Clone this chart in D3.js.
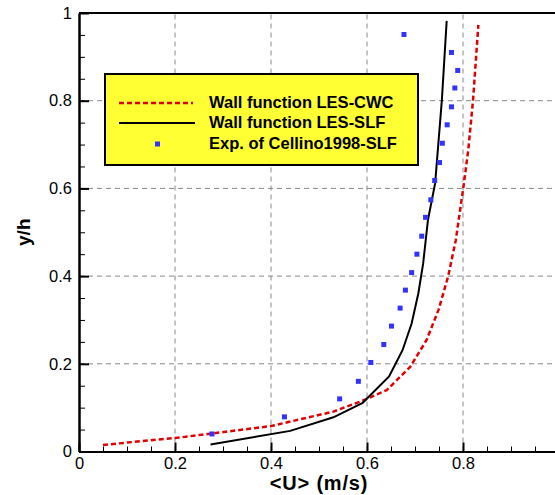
<!DOCTYPE html>
<meta charset="utf-8">
<script src="https://d3js.org/d3.v7.min.js"></script>
<style>
  body { margin: 0; background: #fff; }
  text { font-family: "Liberation Sans", Arial, sans-serif; }
</style>
<div id="chart"></div>
<script>
// wall function LES-CWC (red dashed)
var cwcU = [0.050, 0.210, 0.400, 0.530, 0.591, 0.641, 0.690, 0.724, 0.749, 0.769, 0.785, 0.801, 0.811, 0.821, 0.832];
var cwcY = [0.015, 0.032, 0.058, 0.091, 0.116, 0.140, 0.193, 0.254, 0.323, 0.399, 0.482, 0.604, 0.688, 0.802, 0.973];
// wall function LES-SLF (black)
var slfU = [0.274, 0.440, 0.530, 0.591, 0.646, 0.674, 0.693, 0.707, 0.717, 0.727, 0.742, 0.756, 0.766];
var slfY = [0.016, 0.047, 0.078, 0.111, 0.171, 0.231, 0.292, 0.361, 0.429, 0.528, 0.612, 0.802, 0.982];
// experiment Cellino 1998 (blue squares)
var expU = [0.277, 0.428, 0.543, 0.582, 0.608, 0.635, 0.651, 0.669, 0.680, 0.693, 0.704, 0.714,
            0.722, 0.733, 0.741, 0.751, 0.757, 0.767, 0.776, 0.783, 0.789, 0.776, 0.677];
var expY = [0.040, 0.079, 0.120, 0.160, 0.203, 0.244, 0.286, 0.327, 0.368, 0.408, 0.450, 0.491,
            0.534, 0.574, 0.618, 0.659, 0.703, 0.745, 0.786, 0.829, 0.869, 0.910, 0.951];

var xTicks = [0, 0.2, 0.4, 0.6, 0.8, 1];
var xTickLabels = ["0", "0.2", "0.4", "0.6", "0.8", ""];   // "1" falls off the right edge
var yTicks = [0, 0.2, 0.4, 0.6, 0.8, 1];
var yTickLabels = ["0", "0.2", "0.4", "0.6", "0.8", "1"];
var minorTicks = d3.range(0, 21).map(function(i) { return i / 20; });
var gridTicks = [0.2, 0.4, 0.6, 0.8];
var legendLabels = ["Wall function LES-CWC", "Wall function LES-SLF", "Exp. of Cellino1998-SLF"];

var width = 555, height = 495;
var margin = {top: 13, left: 79};
var plotW = 480, plotH = 438.5;

var svg = d3.select("#chart")
  .append("svg")
    .attr("width", width)
    .attr("height", height);

var x = d3.scaleLinear().domain([0, 1]).range([margin.left, margin.left + plotW]);
var y = d3.scaleLinear().domain([0, 1]).range([margin.top + plotH, margin.top]);

// grid
svg.append("g").selectAll("line")
  .data(gridTicks).enter().append("line")
    .attr("x1", function(d) { return x(d); }).attr("x2", function(d) { return x(d); })
    .attr("y1", y(0)).attr("y2", y(1))
    .attr("stroke", "#888").attr("stroke-dasharray", "5,4");
svg.append("g").selectAll("line")
  .data(gridTicks).enter().append("line")
    .attr("y1", function(d) { return y(d); }).attr("y2", function(d) { return y(d); })
    .attr("x1", x(0)).attr("x2", x(1))
    .attr("stroke", "#888").attr("stroke-dasharray", "5,4");

// frame (top and right)
svg.append("path")
  .attr("d", "M" + x(0) + "," + y(1) + "H" + x(1) + "V" + y(0))
  .attr("fill", "none").attr("stroke", "#000").attr("stroke-width", 2);

// axes, ticks pointing inward
var xMinor = svg.append("g").attr("transform", "translate(0," + y(0) + ")")
  .call(d3.axisBottom(x).tickValues(minorTicks).tickSizeInner(-5).tickSizeOuter(0).tickFormat(""));
var xAxis = svg.append("g").attr("transform", "translate(0," + y(0) + ")")
  .call(d3.axisBottom(x).tickValues(xTicks).tickSizeInner(-9).tickSizeOuter(0).tickPadding(6)
    .tickFormat(function(d, i) { return xTickLabels[i]; }));
var yMinor = svg.append("g").attr("transform", "translate(" + x(0) + ",0)")
  .call(d3.axisLeft(y).tickValues(minorTicks).tickSizeInner(-6).tickSizeOuter(0).tickFormat(""));
var yAxis = svg.append("g").attr("transform", "translate(" + x(0) + ",0)")
  .call(d3.axisLeft(y).tickValues(yTicks).tickSizeInner(-10).tickSizeOuter(0).tickPadding(7)
    .tickFormat(function(d, i) { return yTickLabels[i]; }));

[xMinor, xAxis, yMinor, yAxis].forEach(function(g) {
  g.selectAll("path,line").attr("stroke", "#000");
  g.select(".domain").attr("stroke-width", 2);
  g.selectAll("text").attr("fill", "#000").style("font-size", "16.5px");
});
xAxis.selectAll(".tick line").attr("stroke-width", 2);
yAxis.selectAll(".tick line").attr("stroke-width", 2);

// axis titles
svg.append("text")
  .attr("x", x(0.5)).attr("y", 490)
  .attr("text-anchor", "middle")
  .style("font-size", "20px").style("font-weight", "bold").style("letter-spacing", "0.8px")
  .text("<U> (m/s)");
svg.append("text")
  .attr("transform", "translate(30," + y(0.5) + ")rotate(-90)")
  .attr("text-anchor", "middle")
  .style("font-size", "19px").style("font-weight", "bold")
  .text("y/h");

// series
var line = d3.line().x(function(d) { return x(d[0]); }).y(function(d) { return y(d[1]); });

svg.append("path")
  .datum(d3.zip(cwcU, cwcY))
  .attr("d", line)
  .attr("fill", "none").attr("stroke", "#e00000").attr("stroke-width", 2.5)
  .attr("stroke-dasharray", "5,3");

svg.append("path")
  .datum(d3.zip(slfU, slfY))
  .attr("d", line)
  .attr("fill", "none").attr("stroke", "#000").attr("stroke-width", 2);

svg.append("g").selectAll("rect")
  .data(d3.zip(expU, expY)).enter().append("rect")
    .attr("x", function(d) { return x(d[0]) - 2.5; })
    .attr("y", function(d) { return y(d[1]) - 2.5; })
    .attr("width", 5).attr("height", 5)
    .attr("fill", "#3333ff");

// legend
var legend = svg.append("g");
legend.append("rect")
  .attr("x", 105).attr("y", 74).attr("width", 313).attr("height", 91)
  .attr("fill", "#ffff33").attr("stroke", "#000").attr("stroke-width", 2);
var rowY = [103, 123, 144];
legend.append("line")
  .attr("x1", 119).attr("x2", 193).attr("y1", rowY[0]).attr("y2", rowY[0])
  .attr("stroke", "#e00000").attr("stroke-width", 2.5).attr("stroke-dasharray", "5,3");
legend.append("line")
  .attr("x1", 119).attr("x2", 195).attr("y1", rowY[1]).attr("y2", rowY[1])
  .attr("stroke", "#000").attr("stroke-width", 2);
legend.append("rect")
  .attr("x", 155).attr("y", rowY[2] - 2.5).attr("width", 5).attr("height", 5)
  .attr("fill", "#3333ff");
legend.selectAll("text.lab")
  .data(legendLabels).enter().append("text")
    .attr("class", "lab")
    .attr("x", 209)
    .attr("y", function(d, i) { return rowY[i] + 5; })
    .style("font-size", "16.5px").style("font-weight", "bold")
    .text(function(d) { return d; });
</script>
